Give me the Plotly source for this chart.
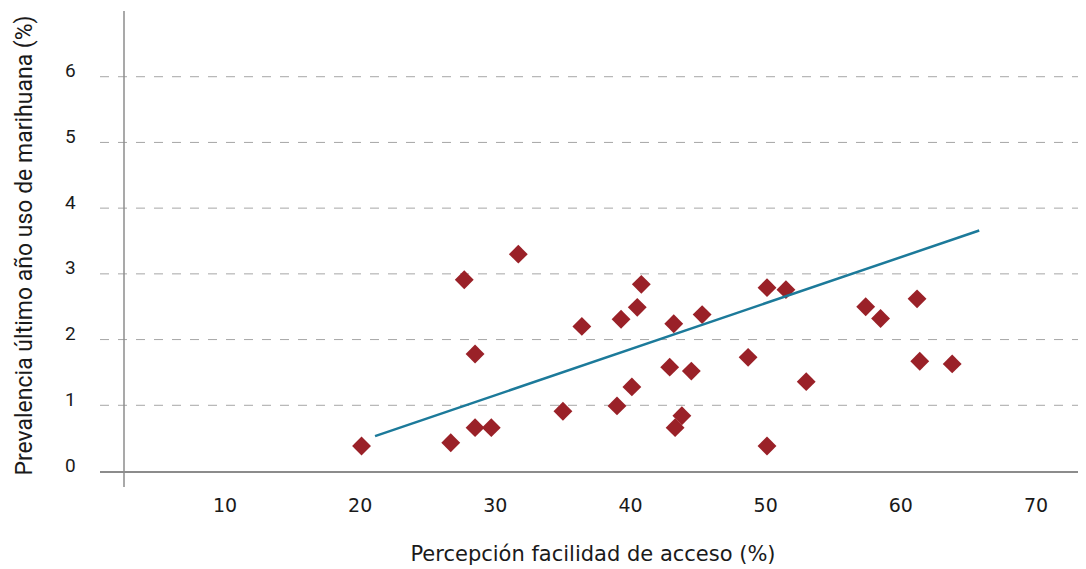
import plotly.graph_objects as go

# Data
acceso = [20.1, 26.7, 27.7, 28.5, 28.5, 29.7, 31.7, 35.0, 36.4, 39.0,
          39.3, 40.1, 40.5, 40.8, 42.9, 43.2, 43.3, 43.8, 44.5, 45.3,
          48.7, 50.1, 50.1, 51.5, 53.0, 57.4, 58.5, 61.2, 61.4, 63.8]
prevalencia = [0.38, 0.43, 2.91, 1.78, 0.66, 0.66, 3.30, 0.91, 2.20, 0.99,
               2.31, 1.28, 2.49, 2.84, 1.58, 2.24, 0.66, 0.84, 1.52, 2.38,
               1.73, 2.79, 0.38, 2.76, 1.36, 2.50, 2.32, 2.62, 1.67, 1.63]

trend_x = [21.1, 65.8]
trend_y = [0.53, 3.66]

x_ticks = [10, 20, 30, 40, 50, 60, 70]
y_ticks = [0, 1, 2, 3, 4, 5, 6]

x_title = "Percepción facilidad de acceso (%)"
y_title = "Prevalencia último año uso de marihuana (%)"

fig = go.Figure()
fig.add_trace(go.Scatter(
    x=acceso, y=prevalencia, mode="markers",
    marker=dict(symbol="diamond", size=14.5, color="#9A2128", line=dict(width=0)),
    showlegend=False, hoverinfo="x+y",
))
fig.add_trace(go.Scatter(
    x=trend_x, y=trend_y, mode="lines",
    line=dict(color="#1C7A9A", width=2.5),
    showlegend=False, hoverinfo="skip",
))

grid_color = "#A6A6A6"
axis_color = "#8C8C8C"
text_color = "#1a1a1a"
plot_w = 986

# Dashed horizontal grid lines (extend left beyond the y axis line)
for v in y_ticks[1:]:
    fig.add_shape(type="line", xref="paper", yref="y", x0=0, x1=1, y0=v, y1=v,
                  line=dict(color=grid_color, width=1, dash="dash"), layer="below")

# Visible y axis line (crossing inside plot area, extends below x axis)
yline_pos = 24 / plot_w
fig.add_shape(type="line", xref="paper", yref="paper", x0=yline_pos, x1=yline_pos,
              y0=-16 / 460, y1=1, line=dict(color=axis_color, width=1.5), layer="above")

# Y tick labels (slightly raised above their grid lines, as in the reference)
for v in y_ticks:
    fig.add_annotation(x=-30 / plot_w, xref="paper", y=v, yref="y", text=str(v),
                       showarrow=False, xanchor="center", yanchor="middle",
                       yshift=6,
                       font=dict(family="Roboto", size=19, color=text_color))

# Y axis title
fig.add_annotation(x=-75 / plot_w, xref="paper", y=0.49, yref="paper", text=y_title,
                   showarrow=False, textangle=-90, xanchor="center", yanchor="middle",
                   font=dict(family="Roboto", size=23, color=text_color))

fig.update_layout(
    width=1078, height=561,
    margin=dict(l=92, r=0, t=3, b=98),
    paper_bgcolor="white", plot_bgcolor="white",
    font=dict(family="DejaVu Sans", size=18, color=text_color),
    xaxis=dict(
        range=[0.75, 73.7], tickvals=x_ticks, ticktext=[str(v) for v in x_ticks],
        showgrid=False, zeroline=False, showline=True, linecolor=axis_color, linewidth=1.5,
        ticks="", ticklabelstandoff=16,
        tickfont=dict(family="DejaVu Sans", size=19, color=text_color),
        title=dict(text=x_title, standoff=32,
                   font=dict(family="DejaVu Sans", size=21, color=text_color)),
    ),
    yaxis=dict(
        range=[0, 7], tickvals=y_ticks,
        showgrid=False, zeroline=False, showline=False,
        ticks="", showticklabels=False,
    ),
)

fig.write_html("out.html")
